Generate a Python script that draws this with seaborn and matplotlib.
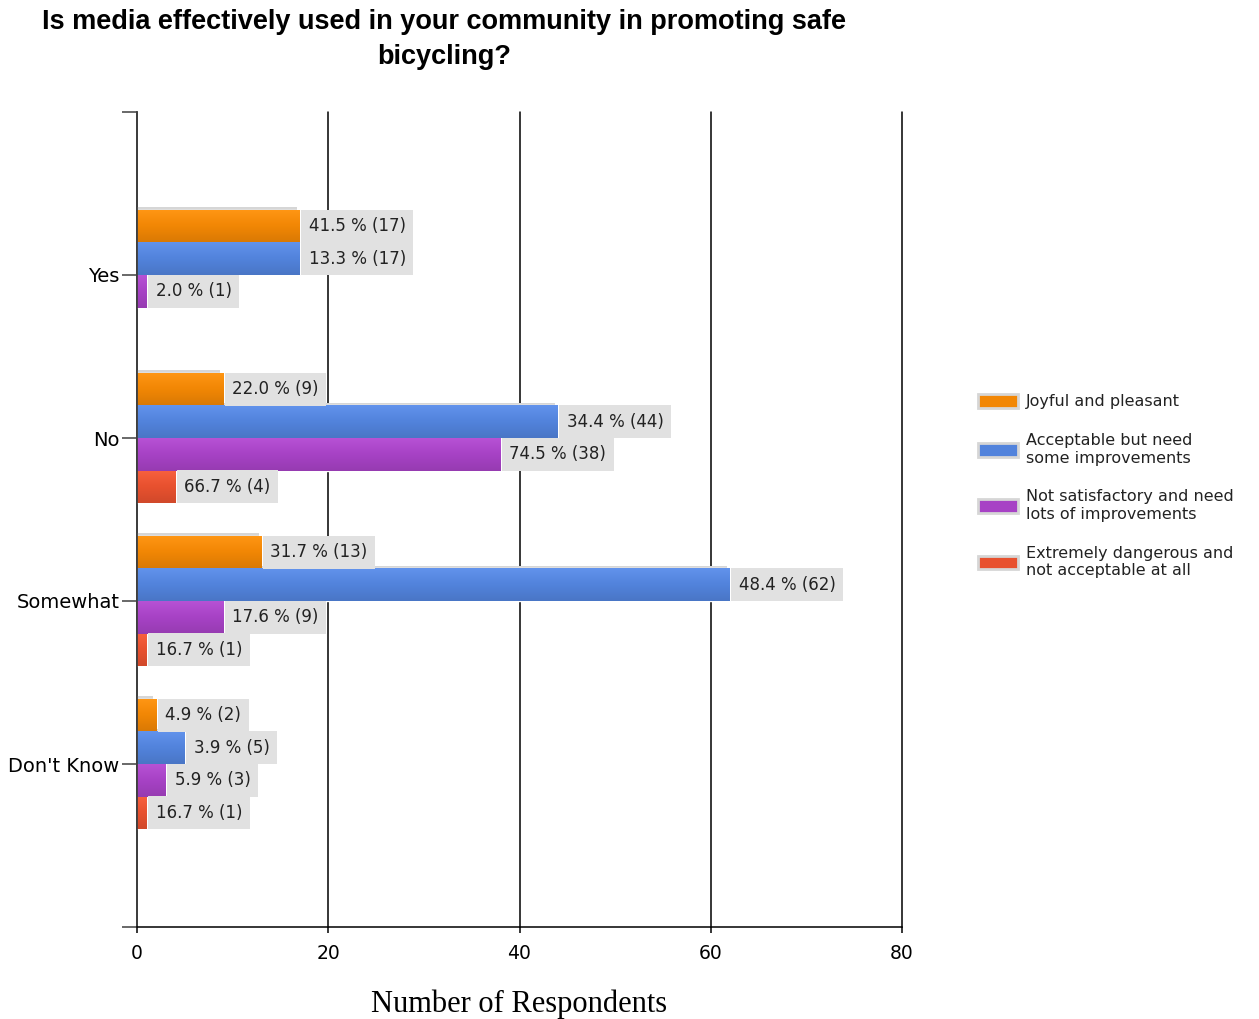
import numpy as np
import pandas as pd
import matplotlib
matplotlib.use("Agg")
import matplotlib.pyplot as plt
import matplotlib.patheffects as pe
from matplotlib.colors import LinearSegmentedColormap, to_rgb
from matplotlib.patches import Patch
import seaborn as sns

answers = ["Yes", "No", "Somewhat", "Don't Know"]
ratings = [
    "Joyful and pleasant",
    "Acceptable but need\nsome improvements",
    "Not satisfactory and need\nlots of improvements",
    "Extremely dangerous and\nnot acceptable at all",
]

# counts per answer (Yes, No, Somewhat, Don't Know)
joyful = [17, 9, 13, 2]
acceptable = [17, 44, 62, 5]
not_satisfactory = [1, 38, 9, 3]
dangerous = [0, 4, 1, 1]

# percentages shown in the labels
joyful_pct = [41.5, 22.0, 31.7, 4.9]
acceptable_pct = [13.3, 34.4, 48.4, 3.9]
not_satisfactory_pct = [2.0, 74.5, 17.6, 5.9]
dangerous_pct = [0.0, 66.7, 16.7, 16.7]

colors = ["#f28705", "#5283dc", "#a742c5", "#e8512f"]

counts = [joyful, acceptable, not_satisfactory, dangerous]
pcts = [joyful_pct, acceptable_pct, not_satisfactory_pct, dangerous_pct]

rows = []
for r, cnt, pct in zip(ratings, counts, pcts):
    for a, c, p in zip(answers, cnt, pct):
        rows.append({"answer": a, "rating": r, "count": c, "pct": p})
df = pd.DataFrame(rows)

sns.set_style("white")
plt.rcParams["font.family"] = ["DejaVu Sans"]

fig = plt.figure(figsize=(12.59, 10.19), dpi=100)
ax = fig.add_axes([137 / 1259, 1 - 927 / 1019, (902 - 137) / 1259, (927 - 112) / 1019])

sns.barplot(data=df, y="answer", x="count", hue="rating", order=answers,
            hue_order=ratings, palette=colors, orient="h", width=0.8,
            dodge=True, saturation=1, legend=False, ax=ax, errorbar=None)

# soft vertical gradient + grey shadow on each bar, then the value label
grad = np.linspace(0, 1, 64).reshape(-1, 1)
for i, cont in enumerate(ax.containers):
    base = np.array(to_rgb(colors[i]))
    light = np.clip(base + 0.06, 0, 1)
    dark = base * 0.9
    cmap = LinearSegmentedColormap.from_list(f"g{i}", [light, base, dark])
    for j, bar in enumerate(cont):
        if counts[i][j] == 0:
            bar.set_visible(False)
            continue
        bar.set_path_effects([pe.SimplePatchShadow(offset=(-2, 2), shadow_rgbFace="#d6d6d6", alpha=1),
                              pe.Normal()])
        x0, y0 = bar.get_x(), bar.get_y()
        w, h = bar.get_width(), bar.get_height()
        im = ax.imshow(grad, extent=[x0, x0 + w, y0 + h, y0], aspect="auto",
                       cmap=cmap, origin="upper", zorder=bar.get_zorder() + 0.1)
        im.set_clip_path(bar)
        ax.annotate(f"{pcts[i][j]:.1f} % ({counts[i][j]})", xy=(x0 + w, y0 + h / 2),
                    xytext=(6.5, 0), textcoords="offset points", va="center", ha="left",
                    fontsize=12, color="#222222", zorder=5,
                    bbox=dict(boxstyle="square,pad=0.45", fc="#e1e1e1", ec="none"))

ax.set_xlim(0, 80)
ax.set_ylim(4, -1)
ax.set_xticks([0, 20, 40, 60, 80])
ax.set_yticks(range(len(answers)))
ax.set_yticklabels(answers)
ax.set_yticks([-1, 4], minor=True)
ax.grid(axis="x", color="black", lw=1.1)
for line in ax.get_xgridlines():
    line.set_clip_on(False)
ax.set_axisbelow(True)
for s in ["top", "right"]:
    ax.spines[s].set_visible(False)
ax.spines["left"].set_color("#404040")
ax.spines["left"].set_linewidth(1.3)
ax.spines["bottom"].set_color("black")
ax.spines["bottom"].set_linewidth(1.1)
ax.tick_params(axis="y", which="both", left=True, length=10.5, width=1.1, color="#404040",
               labelsize=14, pad=2, labelcolor="black")
ax.tick_params(axis="x", bottom=True, length=4, width=1.1, color="black",
               labelsize=13.5, pad=8, labelcolor="black")
ax.set_ylabel("")
ax.set_xlabel("Number of Respondents", family="Liberation Serif", fontsize=22,
              labelpad=19, color="black")

fig.text(444 / 1259, 1 - 9 / 1019,
         "Is media effectively used in your community in promoting safe\nbicycling?",
         ha="center", va="top", fontsize=19.5, fontweight="bold",
         family="Liberation Sans", linespacing=1.43, color="black")

handles = [Patch(facecolor=c, edgecolor="#d6d6d6", linewidth=2) for c in colors]
fig.legend(handles, ratings, loc="center left", bbox_to_anchor=(978 / 1259, 1 - 486 / 1019),
           frameon=False, fontsize=11.5, handlelength=2.5, handleheight=0.95,
           handletextpad=0.5, labelspacing=1.5, borderpad=0, borderaxespad=0,
           labelcolor="#222222")

fig.savefig("out.png", dpi=100)
